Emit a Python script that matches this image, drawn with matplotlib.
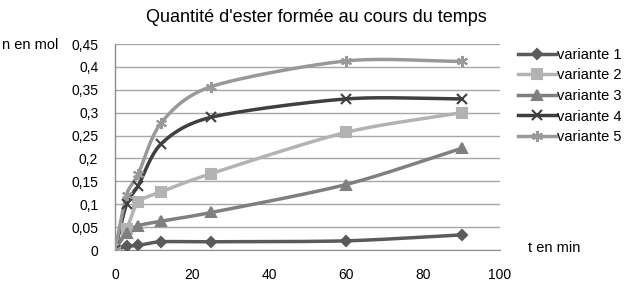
import numpy as np
import matplotlib
matplotlib.use("Agg")
import matplotlib.pyplot as plt
from matplotlib.ticker import FuncFormatter

t = [0, 3, 6, 12, 25, 60, 90]
v1 = [0, 0.008, 0.010, 0.018, 0.018, 0.020, 0.033]
v2 = [0, 0.045, 0.104, 0.127, 0.167, 0.257, 0.300]
v3 = [0, 0.038, 0.053, 0.063, 0.082, 0.143, 0.222]
v4 = [0, 0.100, 0.140, 0.232, 0.290, 0.330, 0.330]
v5 = [0, 0.120, 0.165, 0.278, 0.357, 0.413, 0.412]
names = ["variante 1", "variante 2", "variante 3", "variante 4", "variante 5"]
series = [v1, v2, v3, v4, v5]
colors = ["#5a5a5a", "#b3b3b3", "#7f7f7f", "#3f3f3f", "#999999"]
markers = ["D", "s", "^", "x", (6, 2, 0)]
msizes = [5, 7, 7, 7, 8]

def smooth(x, y, n=30):
    x = np.asarray(x, float); y = np.asarray(y, float)
    px = np.concatenate([[2*x[0]-x[1]], x, [2*x[-1]-x[-2]]])
    py = np.concatenate([[2*y[0]-y[1]], y, [2*y[-1]-y[-2]]])
    ox, oy = [], []
    for i in range(1, len(px)-2):
        s = np.linspace(0, 1, n)
        for arr, out in ((px, ox), (py, oy)):
            p0, p1, p2, p3 = arr[i-1], arr[i], arr[i+1], arr[i+2]
            m1 = (p2 - p0) / 2 * 0.85
            m2 = (p3 - p1) / 2 * 0.85
            h00 = 2*s**3 - 3*s**2 + 1
            h10 = s**3 - 2*s**2 + s
            h01 = -2*s**3 + 3*s**2
            h11 = s**3 - s**2
            out.extend(h00*p1 + h10*m1 + h01*p2 + h11*m2)
    return np.array(ox), np.array(oy)

plt.rcParams['font.family'] = ['Liberation Sans', 'DejaVu Sans']
fig = plt.figure(figsize=(6.24, 2.84), dpi=100)
ax = fig.add_axes([115/624, 1-250/284, 385/624, 206/284])

for y, nm, c, m, ms in zip(series, names, colors, markers, msizes):
    sx, sy = smooth(t, y)
    ax.plot(sx, sy, color=c, lw=2.5, zorder=3)
    ax.plot(t, y, linestyle='none', marker=m, color=c, ms=ms, mew=1.5, zorder=4)
    ax.plot([], [], color=c, lw=2.5, marker=m, ms=ms, mew=1.5, label=nm)

ax.set_xlim(0, 100)
ax.set_ylim(0, 0.45)
ax.set_xticks(range(0, 101, 20))
ax.set_yticks(np.arange(0, 0.451, 0.05))
ax.yaxis.set_major_formatter(FuncFormatter(lambda v, p: ("%g" % round(v, 2)).replace('.', ',')))
ax.grid(axis='y', color='#a6a6a6', lw=1)
ax.set_axisbelow(True)
for s in ['top', 'right']:
    ax.spines[s].set_visible(False)
ax.spines['left'].set_color('#8c8c8c')
ax.spines['bottom'].set_color('#8c8c8c')
ax.spines['left'].set_linewidth(1)
ax.tick_params(length=0, labelsize=10, colors='#000000')
ax.tick_params(axis='x', pad=13)
ax.tick_params(axis='y', pad=12)

fig.text(316/624, 1-17/284, "Quantité d'ester formée au cours du temps", ha='center', va='center', fontsize=13)
fig.text(2/624, 1-45/284, "n en mol", ha='left', va='center', fontsize=10.5)
fig.text(528/624, 1-248/284, "t en min", ha='left', va='center', fontsize=10.5)

leg = fig.legend(loc='upper left', bbox_to_anchor=(512/624, 1-42/284), frameon=False,
                 fontsize=10.5, handlelength=2.6, handletextpad=0.1, labelspacing=0.45, borderaxespad=0)

fig.savefig("out.png", dpi=100)
